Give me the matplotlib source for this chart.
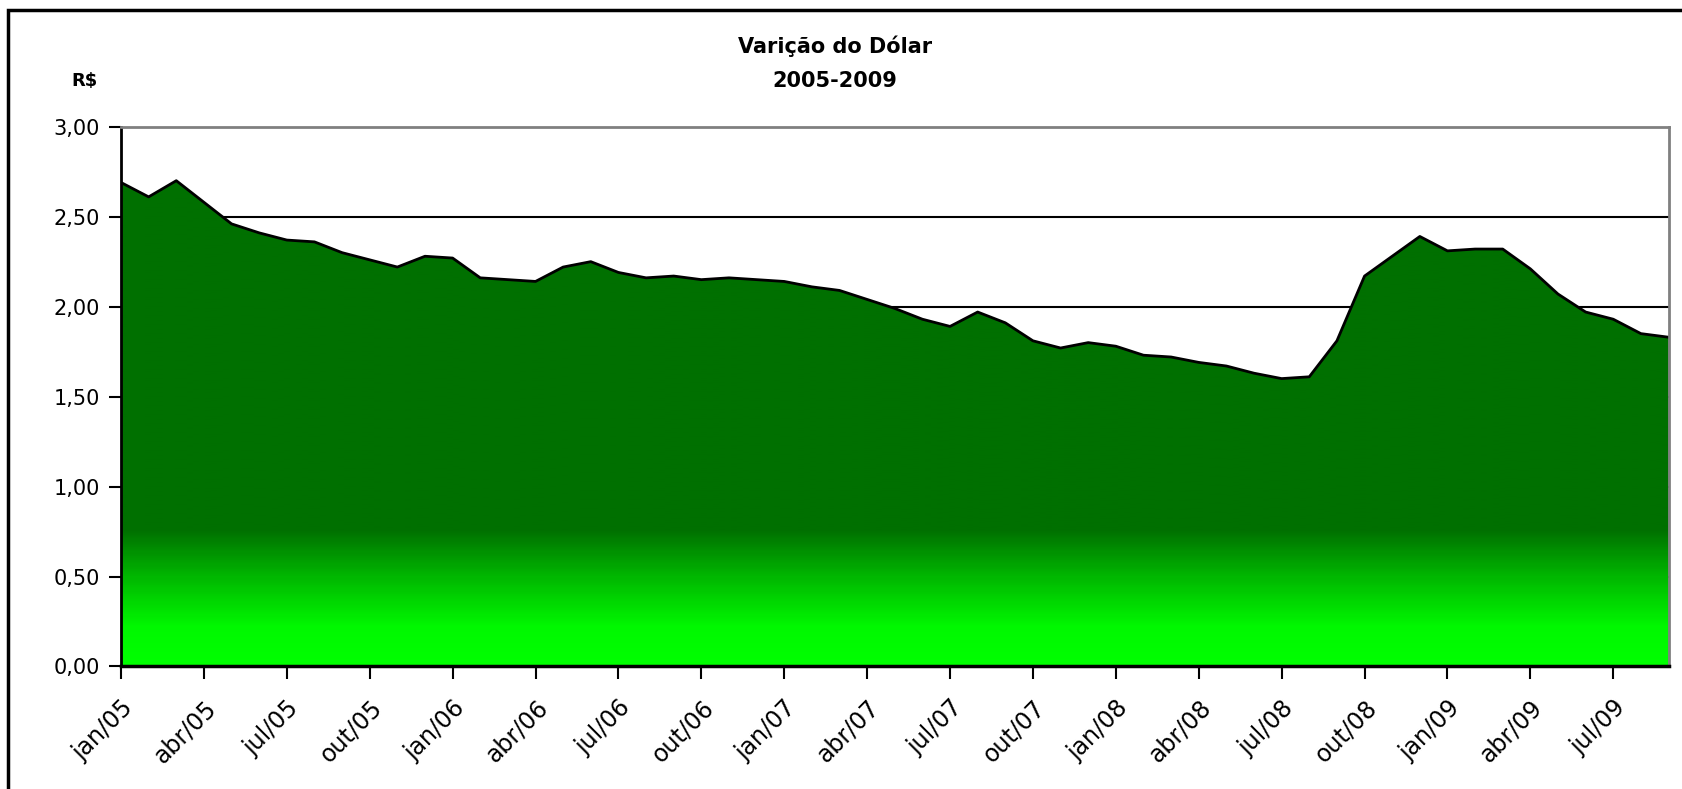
import numpy as np
import matplotlib.pyplot as plt
from matplotlib.colors import LinearSegmentedColormap
from matplotlib.patches import Rectangle

# cotacao media mensal do dolar (R$), jan/05 .. set/09
meses = ['jan/05', 'fev/05', 'mar/05', 'abr/05', 'mai/05', 'jun/05', 'jul/05', 'ago/05', 'set/05', 'out/05', 'nov/05', 'dez/05',
         'jan/06', 'fev/06', 'mar/06', 'abr/06', 'mai/06', 'jun/06', 'jul/06', 'ago/06', 'set/06', 'out/06', 'nov/06', 'dez/06',
         'jan/07', 'fev/07', 'mar/07', 'abr/07', 'mai/07', 'jun/07', 'jul/07', 'ago/07', 'set/07', 'out/07', 'nov/07', 'dez/07',
         'jan/08', 'fev/08', 'mar/08', 'abr/08', 'mai/08', 'jun/08', 'jul/08', 'ago/08', 'set/08', 'out/08', 'nov/08', 'dez/08',
         'jan/09', 'fev/09', 'mar/09', 'abr/09', 'mai/09', 'jun/09', 'jul/09', 'ago/09', 'set/09']
dolar = [2.69, 2.61, 2.70, 2.58, 2.46, 2.41, 2.37, 2.36, 2.30, 2.26, 2.22, 2.28,
         2.27, 2.16, 2.15, 2.14, 2.22, 2.25, 2.19, 2.16, 2.17, 2.15, 2.16, 2.15,
         2.14, 2.11, 2.09, 2.04, 1.99, 1.93, 1.89, 1.97, 1.91, 1.81, 1.77, 1.80,
         1.78, 1.73, 1.72, 1.69, 1.67, 1.63, 1.60, 1.61, 1.81, 2.17, 2.28, 2.39,
         2.31, 2.32, 2.32, 2.21, 2.07, 1.97, 1.93, 1.85, 1.83]
yticks = [0.0, 0.5, 1.0, 1.5, 2.0, 2.5, 3.0]

plt.rcParams['font.family'] = ['DejaVu Sans']

fig = plt.figure(figsize=(16.83, 7.89), dpi=100)
ax = fig.add_axes([0.0719, 0.1553, 0.9195, 0.6841])

x = np.arange(len(dolar))
ax.set_xlim(0, len(dolar) - 1)
ax.set_ylim(0, 3)

# grade
for v in yticks[1:-1]:
    ax.axhline(v, color='black', lw=1.5, zorder=0)

# area com degrade
poly = ax.fill_between(x, 0, dolar, facecolor='none', edgecolor='none')
cmap = LinearSegmentedColormap.from_list('verde', [(0.0, '#00ff00'), (0.07, '#00f800'), (0.167, '#00b400'),
                                                   (0.25, '#007000'), (1.0, '#007000')])
grad = np.linspace(0, 1, 300).reshape(-1, 1)
im = ax.imshow(grad, cmap=cmap, aspect='auto', origin='lower',
               extent=[0, len(dolar) - 1, 0, 3], zorder=1)
path = poly.get_paths()[0]
im.set_clip_path(path, transform=ax.transData)
ax.plot(x, dolar, color='black', lw=2, zorder=2)
ax.plot([x[-1], x[-1]], [0, dolar[-1]], color='black', lw=1, zorder=2)

ax.spines['top'].set_color('#808080')
ax.spines['right'].set_color('#808080')
ax.spines['top'].set_linewidth(2)
ax.spines['right'].set_linewidth(2)
ax.spines['left'].set_linewidth(2)
ax.spines['bottom'].set_linewidth(2.5)

ax.set_yticks(yticks)
ax.set_yticklabels([f'{v:.2f}'.replace('.', ',') for v in yticks], fontsize=15)
ax.set_xticks(x[::3])
ax.set_xticklabels(meses[::3], rotation=45, ha='right', va='top', rotation_mode='anchor', fontsize=17)
ax.tick_params(axis='both', direction='out', length=9, width=1.5, color='black', pad=6)
ax.tick_params(axis='x', pad=12)

fig.text(0.496, 0.942, 'Varição do Dólar', ha='center', va='center', fontsize=15, fontweight='bold')
fig.text(0.496, 0.897, '2005-2009', ha='center', va='center', fontsize=15, fontweight='bold')
fig.text(0.0505, 0.897, 'R$', ha='center', va='center', fontsize=13, fontweight='bold')

# moldura do grafico
fig.add_artist(Rectangle((8 / 1683, -0.05), 1.2, 1.05 - 10 / 789, transform=fig.transFigure,
                         fill=False, edgecolor='black', lw=2.5))

fig.savefig('out.png', dpi=100)
